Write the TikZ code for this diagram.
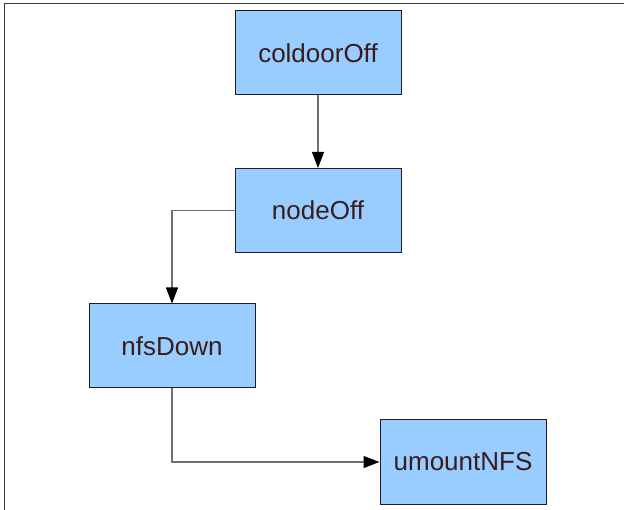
\documentclass[tikz,border=0pt]{standalone}
\usepackage{fontspec}
\setmainfont{Liberation Sans}
\usetikzlibrary{arrows.meta}
\definecolor{boxfill}{HTML}{99CCFF}
\definecolor{boxline}{HTML}{1C1C2C}
\definecolor{labeltext}{HTML}{3B1C1C}
\definecolor{linkgray}{HTML}{707070}
\definecolor{framegray}{HTML}{3A3A3A}
\begin{document}
\begin{tikzpicture}[x=1pt,y=-1pt,
  box/.style={draw=boxline, fill=boxfill, line width=1pt,
    minimum width=166pt, minimum height=84pt, inner sep=0pt,
    font=\fontsize{26}{30}\selectfont, text=labeltext},
  link/.style={draw=linkgray, line width=1.2pt,
    -{Triangle[length=16pt,width=12pt,color=black]}}]
  \useasboundingbox (0,0) rectangle (624,510);
  % page frame (top and left edges)
  \draw[framegray, line width=1.5pt] (4.5,510) -- (4.5,3.5) -- (624,3.5);
  % states
  \node[box] (cold)    at (318,53)    {coldoorOff};
  \node[box] (nodeoff) at (318,210.5) {nodeOff};
  \node[box] (nfs)     at (172,346)   {nfsDown};
  \node[box] (umount)  at (463,462)   {umountNFS};
  % transitions
  \draw[link] (cold) -- (nodeoff);
  \draw[link] (nodeoff.west) -| (nfs.north);
  \draw[link] (nfs.south) |- (umount.west);
\end{tikzpicture}
\end{document}
